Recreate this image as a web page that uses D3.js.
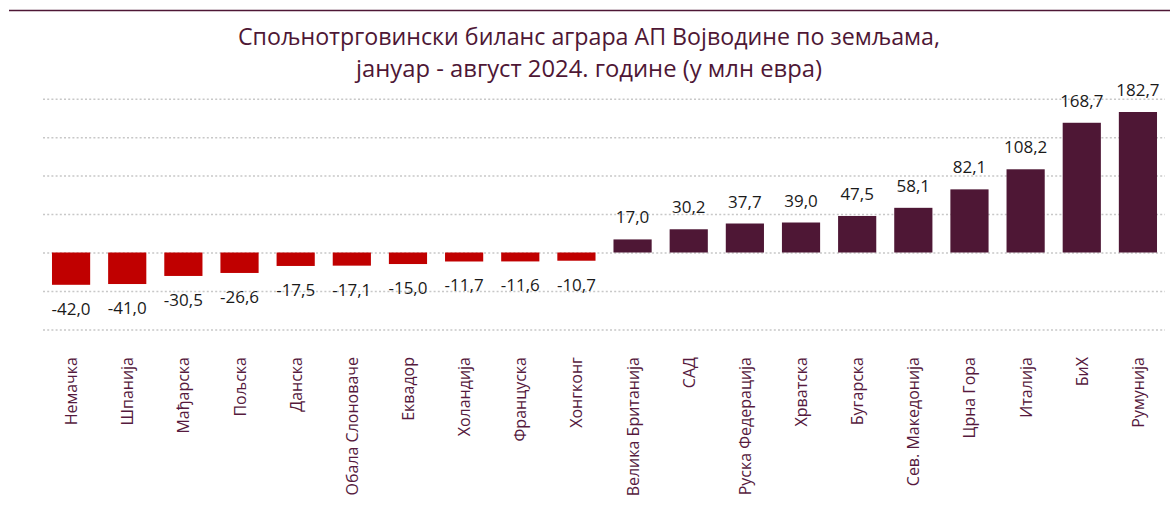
<!DOCTYPE html>
<html>
<head>
<meta charset="utf-8">
<script src="https://cdn.jsdelivr.net/npm/d3@7"></script>
<style>
  body { margin: 0; background: #fff; }
  svg { display: block; }
  .title { font-family: "Open Sans", sans-serif; font-size: 24px; fill: #4e1735; }
  .value { font-family: "Open Sans", sans-serif; font-size: 17px; fill: #1a1a1a; }
  .cat { font-family: "Open Sans", sans-serif; font-size: 16px; fill: #561a3e; }
  .grid line { stroke: #c8c8c8; stroke-width: 1.5; stroke-dasharray: 2,2.2; }
</style>
</head>
<body>
<svg id="chart"></svg>
<script>
const countries = ['Немачка', 'Шпанија', 'Мађарска', 'Пољска', 'Данска', 'Обала Слоноваче', 'Еквадор',
  'Холандија', 'Француска', 'Хонгконг', 'Велика Британија', 'САД', 'Руска Федерација', 'Хрватска',
  'Бугарска', 'Сев. Македонија', 'Црна Гора', 'Италија', 'БиХ', 'Румунија'];
const balance = [-42.0, -41.0, -30.5, -26.6, -17.5, -17.1, -15.0, -11.7, -11.6, -10.7,
  17.0, 30.2, 37.7, 39.0, 47.5, 58.1, 82.1, 108.2, 168.7, 182.7];
const gridTicks = [-100, -50, 0, 50, 100, 150, 200];
const titleLines = ['Спољнотрговински биланс аграра АП Војводине по земљама,',
  'јануар - август 2024. године (у млн евра)'];

const width = 1170, height = 511;
const svg = d3.select('#chart').attr('width', width).attr('height', height);

const data = countries.map((c, i) => ({ name: c, value: balance[i] }));

let x = d3.scaleBand()
  .domain(countries)
  .range([43, 1166])
  .paddingInner(0.32)
  .paddingOuter(0.16);

let y = d3.scaleLinear()
  .domain([-100, 200])
  .range([329.4, 98.7]);

// top rule
svg.append('line')
  .attr('x1', 9).attr('x2', width)
  .attr('y1', 10.5).attr('y2', 10.5)
  .attr('stroke', '#4e1735')
  .attr('stroke-width', 1.5);

// title
svg.selectAll('.title')
  .data(titleLines)
  .enter()
  .append('text')
  .attr('class', 'title')
  .attr('x', 589)
  .attr('y', (d, i) => 45 + i * 32)
  .attr('text-anchor', 'middle')
  .attr('textLength', (d, i) => i == 0 ? 702 : 466)
  .attr('lengthAdjust', 'spacingAndGlyphs')
  .text(d => d);

// gridlines
let grid = svg.append('g')
  .attr('class', 'grid')
  .attr('transform', 'translate(43,0)')
  .call(d3.axisLeft(y).tickValues(gridTicks).tickSize(-(1165 - 43)).tickFormat(''));
grid.select('.domain').remove();

// bars
svg.selectAll('.bar')
  .data(data)
  .enter()
  .append('rect')
  .attr('class', 'bar')
  .attr('x', d => x(d.name))
  .attr('width', x.bandwidth())
  .attr('y', d => y(Math.max(0, d.value)))
  .attr('height', d => Math.abs(y(d.value) - y(0)))
  .attr('fill', d => d.value < 0 ? '#c00000' : '#4e1735');

// value labels
svg.selectAll('.value')
  .data(data)
  .enter()
  .append('text')
  .attr('class', 'value')
  .attr('x', d => x(d.name) + x.bandwidth() / 2)
  .attr('y', d => d.value < 0 ? y(d.value) + 30 : y(d.value) - 16)
  .attr('text-anchor', 'middle')
  .text(d => d3.format('.1f')(d.value).replace('.', ',').replace('−', '-'));

// category labels
svg.selectAll('.cat')
  .data(data)
  .enter()
  .append('text')
  .attr('class', 'cat')
  .attr('transform', d => `translate(${x(d.name) + x.bandwidth() / 2 + 6}, 357) rotate(-90)`)
  .attr('text-anchor', 'end')
  .text(d => d.name);
</script>
</body>
</html>
